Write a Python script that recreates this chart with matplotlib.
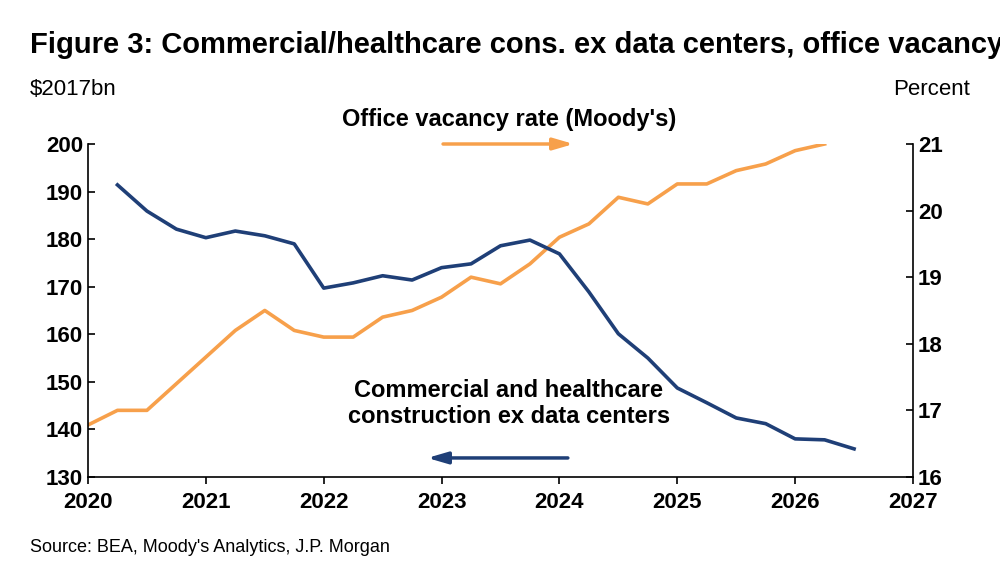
import matplotlib
matplotlib.use("Agg")
import matplotlib.pyplot as plt

plt.rcParams['font.family'] = ['Liberation Sans', 'DejaVu Sans']
NARROW = ['Liberation Sans Narrow', 'Liberation Sans', 'DejaVu Sans']

blue_x = [2020.25 + 0.25*i for i in range(26)]
blue_y = [191.4, 185.9, 182.1, 180.3, 181.7, 180.7, 179.0, 169.7, 170.8, 172.3, 171.4, 174.0, 174.8,
          178.6, 179.8, 176.9, 168.9, 160.1, 155.0, 148.7, 145.6, 142.4, 141.2, 138.0, 137.8, 135.9]
orange_x = [2020.0 + 0.25*i for i in range(26)]
orange_y = [16.78, 17.0, 17.0, 17.4, 17.8, 18.2, 18.5, 18.2, 18.1, 18.1, 18.4, 18.5, 18.7,
            19.0, 18.9, 19.2, 19.6, 19.8, 20.2, 20.1, 20.4, 20.4, 20.6, 20.7, 20.9, 21.0]
years = [2020, 2021, 2022, 2023, 2024, 2025, 2026, 2027]

BLUE = '#1f3f77'
ORANGE = '#f7a04b'

fig = plt.figure(figsize=(10, 5.76), dpi=100)
ax = fig.add_axes([0.088, 0.172, 0.825, 0.578])
ax2 = ax.twinx()
ax.plot(blue_x, blue_y, color=BLUE, lw=2.6, zorder=3)
ax2.plot(orange_x, orange_y, color=ORANGE, lw=2.6)
ax.set_zorder(ax2.get_zorder() + 1)
ax.patch.set_visible(False)

ax.set_xlim(2020, 2027)
ax.set_ylim(130, 200)
ax2.set_ylim(16, 21)
ax.set_xticks(years)
ax.set_yticks(range(130, 201, 10))
ax2.set_yticks(range(16, 22))
for a in (ax, ax2):
    a.tick_params(labelsize=16, width=1.2, length=5, direction='in')
    for lab in a.get_yticklabels() + a.get_xticklabels():
        lab.set_fontweight('bold')
        lab.set_family(NARROW)
    for s in a.spines.values():
        s.set_visible(False)
ax.tick_params(axis='x', direction='out', pad=6)
ax.spines['left'].set_visible(True)
ax.spines['bottom'].set_visible(True)
ax2.spines['right'].set_visible(True)
for s in ('left', 'bottom'):
    ax.spines[s].set_linewidth(1.2)
ax2.spines['right'].set_linewidth(1.2)

fig.text(0.03, 0.922, "Figure 3: Commercial/healthcare cons. ex data centers, office vacancy",
         fontsize=21, fontweight='bold', va='center', family=NARROW)
fig.text(0.03, 0.844, "$2017bn", fontsize=16, va='center', family=NARROW)
fig.text(0.97, 0.844, "Percent", fontsize=16, va='center', ha='right', family=NARROW)
fig.text(0.03, 0.049, "Source: BEA, Moody's Analytics, J.P. Morgan", fontsize=13, va='center', family=NARROW)

ax.text(0.51, 1.075, "Office vacancy rate (Moody's)", transform=ax.transAxes,
        ha='center', va='center', fontsize=17, fontweight='bold', family=NARROW)
ax.annotate('', xy=(0.592, 1.0), xytext=(0.427, 1.0), xycoords='axes fraction',
            arrowprops=dict(arrowstyle='-|>,head_length=1.2,head_width=0.35', color=ORANGE, lw=2.5))
ax.text(0.51, 0.22, "Commercial and healthcare\nconstruction ex data centers", transform=ax.transAxes,
        ha='center', va='center', fontsize=17, fontweight='bold', linespacing=1.15, family=NARROW)
ax.annotate('', xy=(0.408, 0.057), xytext=(0.585, 0.057), xycoords='axes fraction',
            arrowprops=dict(arrowstyle='-|>,head_length=1.2,head_width=0.35', color=BLUE, lw=2.5))

fig.savefig('out.png', dpi=100)
